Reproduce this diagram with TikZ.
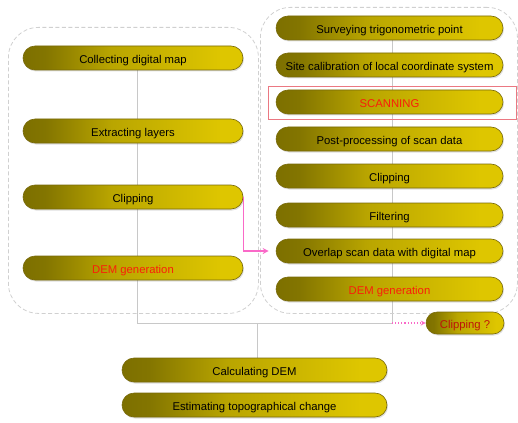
\documentclass[tikz,border=0pt]{standalone}
\usepackage{fontspec}
\setmainfont{Liberation Sans}
\usetikzlibrary{shapes.misc,arrows.meta,backgrounds,shadows}
\definecolor{goldA}{RGB}{95,85,0}
\definecolor{goldB}{RGB}{185,165,0}
\definecolor{goldC}{RGB}{222,198,0}
\definecolor{goldEdge}{RGB}{120,105,10}
\definecolor{boxgrey}{RGB}{208,208,208}
\definecolor{linegrey}{RGB}{200,200,200}
\definecolor{pinkline}{RGB}{250,105,200}
\definecolor{redtext}{RGB}{250,30,10}
\definecolor{darkred}{RGB}{190,20,10}
\definecolor{redbox}{RGB}{235,120,130}
\pgfdeclarehorizontalshading{capsule}{100bp}{color(0bp)=(goldA); color(30bp)=(goldA!60!goldB); color(45bp)=(goldB); color(70bp)=(goldC); color(100bp)=(goldC)}
\tikzset{
  capsule/.style={rounded rectangle, shading=capsule, draw=goldEdge, line width=0.6pt,
    minimum height=24pt, inner sep=0pt, font=\fontsize{11.3}{13}\selectfont, text=black,
    text height=11.5pt, text depth=0pt,
    drop shadow={opacity=0.25, shadow xshift=1pt, shadow yshift=-1.5pt}},
  leftcap/.style={capsule, minimum width=220pt},
  rightcap/.style={capsule, minimum width=227pt},
  botcap/.style={capsule, minimum width=265pt},
  redlabel/.style={text=redtext},
  group/.style={draw=boxgrey, dashed, line width=0.8pt, rounded corners=30pt, dash pattern=on 4pt off 2.5pt},
  conn/.style={draw=linegrey, line width=0.8pt},
  pinkarrow/.style={draw=pinkline, line width=1.1pt, -{Stealth[length=6pt,width=6pt]}},
  pinkdots/.style={draw=pinkline, line width=1.1pt, dotted, -{Stealth[length=5pt,width=5pt]}}
}
\begin{document}
\begin{tikzpicture}[x=1pt,y=1pt]
\useasboundingbox (0,0) rectangle (518,-422);
% group boxes
\node[group, minimum width=250pt, minimum height=286pt, anchor=north west] (gl) at (8,-27) {};
\node[group, minimum width=257pt, minimum height=306pt, anchor=north west] (gr) at (260,-7) {};
% left column
\node[leftcap] (c1) at (133,-58) {Collecting digital map};
\node[leftcap] (c2) at (133,-131) {Extracting layers};
\node[leftcap] (c3) at (133,-197) {Clipping};
\node[leftcap, redlabel] (c4) at (133,-268) {DEM generation};
% right column
\node[rightcap] (r1) at (389.5,-28) {Surveying trigonometric point};
\node[rightcap] (r2) at (389.5,-65) {Site calibration of local coordinate system};
\node[rightcap, redlabel] (r3) at (389.5,-102) {SCANNING};
\node[draw=redbox, line width=0.7pt, minimum width=248pt, minimum height=33pt, inner sep=0pt] (rb) at (392,-102.5) {};
\node[rightcap] (r4) at (389.5,-139) {Post-processing of scan data};
\node[rightcap] (r5) at (389.5,-176) {Clipping};
\node[rightcap] (r6) at (389.5,-215) {Filtering};
\node[rightcap] (r7) at (389.5,-251) {Overlap scan data with digital map};
\node[rightcap, redlabel] (r8) at (389.5,-289) {DEM generation};
% clipping ?
\node[capsule, minimum width=78pt, minimum height=22pt, text=darkred] (cq) at (465,-323) {Clipping ?};
% bottom
\node[botcap] (b1) at (254.5,-370) {Calculating DEM};
\node[botcap] (b2) at (254.5,-405) {Estimating topographical change};
% junction coordinates
\coordinate (jL) at (137,-323);
\coordinate (jR) at (392,-323);
\coordinate (jM) at (257,-323);
\begin{scope}[on background layer]
  \draw[conn] (c1 -| jL) -- (jL) -- (jR) -- (r1 -| jR);
  \draw[conn] (jM) -- (b1.north -| jM);
\end{scope}
\draw[pinkarrow] (c3.east) |- ([xshift=-7pt]r7.west);
\draw[pinkdots] (jR) -- (cq.west);
\end{tikzpicture}
\end{document}
